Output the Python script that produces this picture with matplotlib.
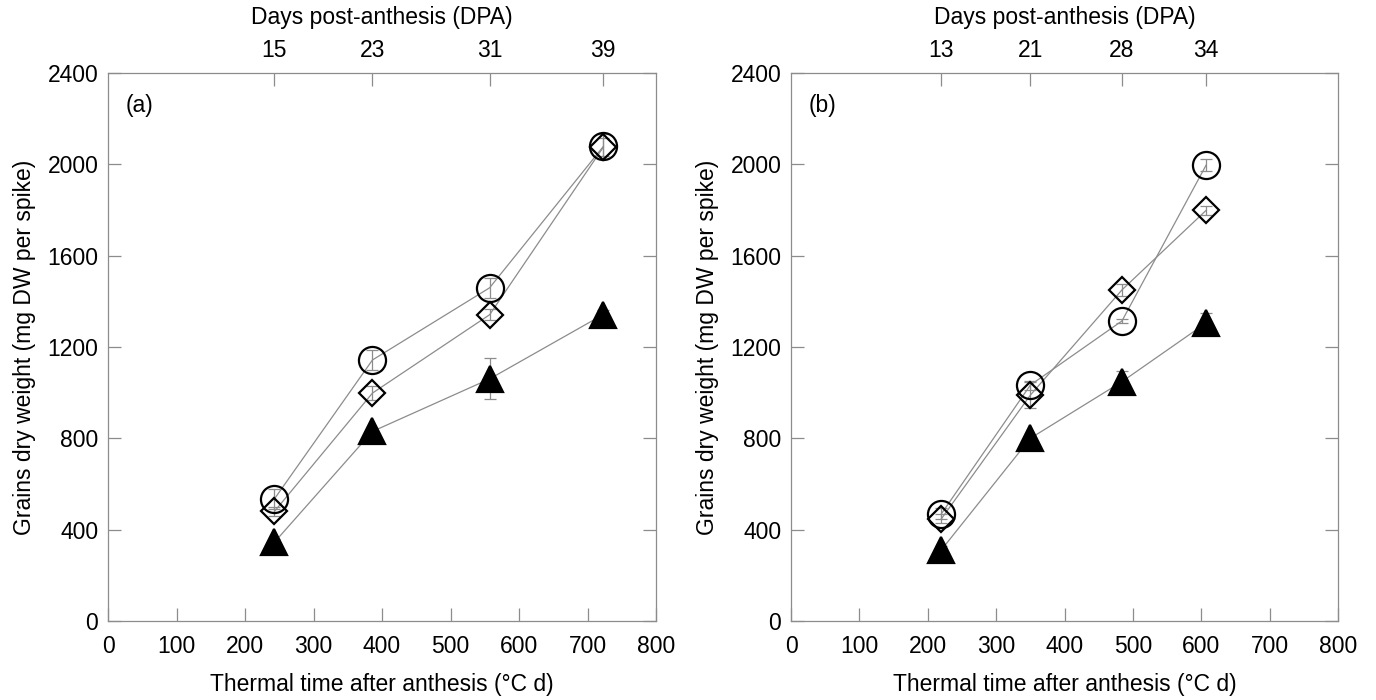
import numpy as np
import matplotlib.pyplot as plt

plt.rcParams['font.family'] = ['Liberation Sans', 'DejaVu Sans']

# panel (a)
tt_a = [243, 386, 557, 723]
dpa_a = ['15', '23', '31', '39']
circ_a = [535, 1143, 1459, 2078]
circ_a_err = [45, 43, 44, 55]
diam_a = [480, 998, 1341, 2075]
diam_a_err = [20, 30, 25, 40]
tri_a = [345, 830, 1060, 1342]
tri_a_err = [15, 15, 90, 20]

# panel (b)
tt_b = [220, 350, 484, 607]
dpa_b = ['13', '21', '28', '34']
circ_b = [470, 1033, 1314, 1996]
circ_b_err = [25, 20, 10, 25]
diam_b = [448, 989, 1450, 1798]
diam_b_err = [20, 57, 26, 18]
tri_b = [312, 800, 1048, 1305]
tri_b_err = [15, 15, 45, 43]

gray = '#8c8c8c'
fs = 16.5

fig = plt.figure(figsize=(13.76, 7.0), dpi=100)
ax_a = fig.add_axes([0.0785, 0.1129, 0.3983, 0.7829])
ax_b = fig.add_axes([0.5749, 0.1129, 0.3975, 0.7829])


def draw(ax, tt, dpa, circ, circ_err, diam, diam_err, tri, tri_err, tag):
    for y, e, mk, ms, fc in [(circ, circ_err, 'o', 19.5, 'none'),
                             (diam, diam_err, 'D', 13.5, 'none'),
                             (tri, tri_err, '^', 19, 'black')]:
        ax.errorbar(tt, y, yerr=e, fmt='none', ecolor=gray, elinewidth=0.9,
                    capsize=4, capthick=0.9, zorder=2)
        ax.plot(tt, y, '-', color=gray, lw=0.9, zorder=1)
        ax.plot(tt, y, linestyle='none', marker=mk, ms=ms, mfc=fc,
                mec='black', mew=1.6, zorder=3)
    ax.set_xlim(0, 800)
    ax.set_ylim(0, 2400)
    ax.set_xticks(np.arange(0, 801, 100))
    ax.set_yticks(np.arange(0, 2401, 400))
    ax.tick_params(direction='in', length=9.5, width=0.9, color=gray,
                   labelsize=fs, right=True)
    ax.tick_params(axis='x', pad=10)
    ax.tick_params(axis='y', pad=7)
    for s in ax.spines.values():
        s.set_color(gray)
        s.set_linewidth(0.9)
    ax.set_xlabel('Thermal time after anthesis (°C d)', fontsize=fs, labelpad=11)
    ax.set_ylabel('Grains dry weight (mg DW per spike)', fontsize=fs, labelpad=8)
    ax.text(0.033, 0.94, tag, transform=ax.transAxes, fontsize=fs,
            ha='left', va='center')

    top = ax.twiny()
    top.set_xlim(0, 800)
    top.set_xticks(tt)
    top.set_xticklabels(dpa)
    top.tick_params(direction='in', length=9.5, width=0.9, color=gray,
                    labelsize=fs, pad=8)
    for s in top.spines.values():
        s.set_visible(False)
    top.set_xlabel('Days post-anthesis (DPA)', fontsize=fs, labelpad=11)


draw(ax_a, tt_a, dpa_a, circ_a, circ_a_err, diam_a, diam_a_err, tri_a, tri_a_err, '(a)')
draw(ax_b, tt_b, dpa_b, circ_b, circ_b_err, diam_b, diam_b_err, tri_b, tri_b_err, '(b)')

fig.savefig('out.png', dpi=100)
